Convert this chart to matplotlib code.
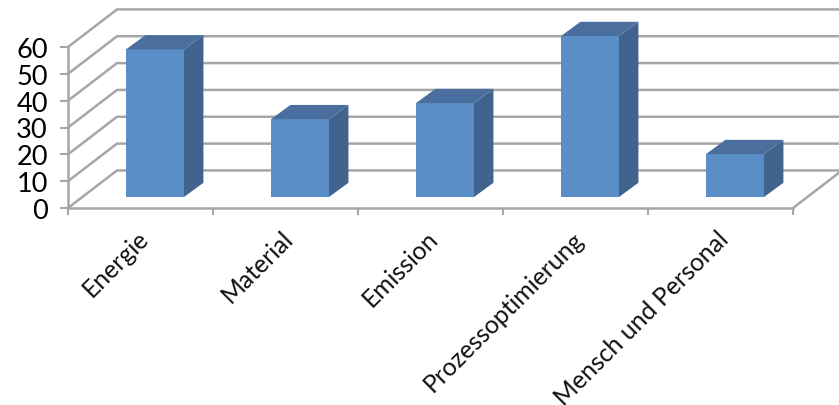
import numpy as np
import matplotlib
matplotlib.use('Agg')
import matplotlib.pyplot as plt
from matplotlib.patches import Polygon

# Data

categories = ['Energie', 'Material', 'Emission', 'Prozessoptimierung', 'Mensch und Personal']
values = [55, 29, 35, 60, 16]
y_ticks = [0, 10, 20, 30, 40, 50, 60]

# Fake 3D depth, in data units

wall_dx, wall_dy = 0.338, 14.0
base_dx, base_dy = 0.10, 4.1
bar_dx, bar_dy = 0.134, 5.3
bar_width = 0.40

grid_color = '#a6a6a6'
front_color = '#5a8ec6'
top_color = '#4a6f9e'
side_color = '#41648f'

plt.rcParams['font.family'] = ['Lato', 'DejaVu Sans']

fig = plt.figure(figsize=(8.39, 4.06), dpi=100)
ax = fig.add_axes([68 / 839, (406 - 209) / 406, (793 - 68) / 839, (209 - 48) / 406])
ax.set_xlim(-0.5, 4.5)
ax.set_ylim(0, 60)

# Walls and grid

x0, x1 = -0.5, 4.5
for v in y_ticks:
    ax.plot([x0, x0 + wall_dx, x1 + wall_dx], [v, v + wall_dy, v + wall_dy],
            color=grid_color, lw=1.8, clip_on=False, zorder=1, solid_joinstyle='miter')
ax.plot([x1, x1 + wall_dx], [0, wall_dy], color=grid_color, lw=1.8, clip_on=False, zorder=1)

# Bars

for i, val in enumerate(values):
    left = i + base_dx - bar_width / 2
    right = left + bar_width
    low = base_dy
    high = base_dy + val
    ax.add_patch(Polygon([(left, low), (right, low), (right, high), (left, high)],
                         closed=True, fc=front_color, ec='none', clip_on=False, zorder=3))
    ax.add_patch(Polygon([(right, low), (right + bar_dx, low + bar_dy),
                          (right + bar_dx, high + bar_dy), (right, high)],
                         closed=True, fc=side_color, ec='none', clip_on=False, zorder=3))
    ax.add_patch(Polygon([(left, high), (right, high),
                          (right + bar_dx, high + bar_dy), (left + bar_dx, high + bar_dy)],
                         closed=True, fc=top_color, ec='none', clip_on=False, zorder=3))

# Axes

for name in ['top', 'right']:
    ax.spines[name].set_visible(False)
for name in ['left', 'bottom']:
    ax.spines[name].set_color(grid_color)
    ax.spines[name].set_linewidth(1.8)
ax.patch.set_visible(False)

ax.set_yticks(y_ticks)
ax.tick_params(axis='y', length=5.5, width=1.5, color=grid_color, labelsize=19.5, pad=9)
ax.set_xticks(np.arange(-0.5, 5, 1))
ax.set_xticklabels([])
ax.tick_params(axis='x', length=5, width=1.5, color=grid_color)

for i, name in enumerate(categories):
    ax.annotate(name, (i, 0), xytext=(-3, -13), textcoords='offset points', rotation=45,
                rotation_mode='anchor', ha='right', va='top', fontsize=17.8, color='#111111',
                annotation_clip=False)

fig.savefig('out.png', dpi=100)
